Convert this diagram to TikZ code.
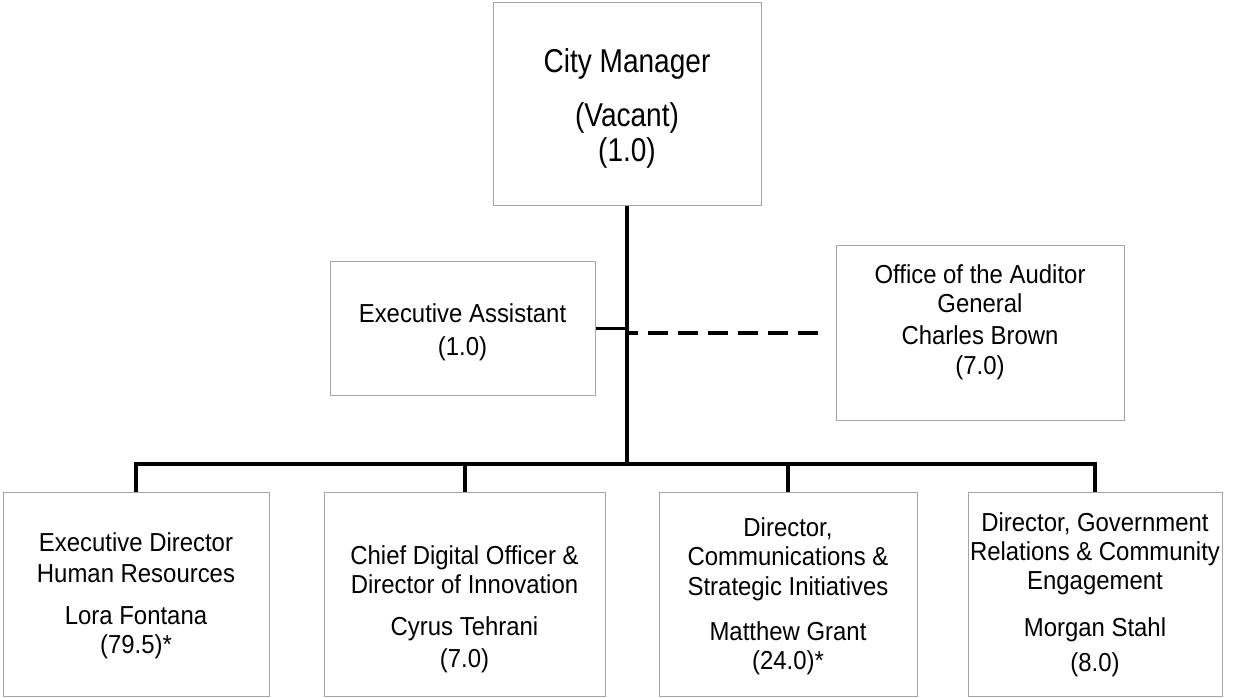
\documentclass[tikz,border=0pt]{standalone}
\usepackage{fontspec}
\setmainfont{Liberation Sans}
\newfontfamily\orgfont[FakeStretch=0.92]{Liberation Sans}
\newfontfamily\topfont[FakeStretch=0.85]{Liberation Sans}
\usepackage{tikz}
\definecolor{BoxLine}{HTML}{A6A6A6}

\begin{document}
\begin{tikzpicture}[x=1pt,y=-1pt]
  \tikzstyle{unit}=[draw=BoxLine,line width=1pt,inner sep=0pt]
  \tikzstyle{txt}=[align=center,inner sep=0pt,font=\orgfont\fontsize{26}{29}\selectfont]
  \tikzstyle{link}=[line width=4pt]
  \useasboundingbox (0,0) rectangle (1251,698);
  \node[unit,minimum width=268pt,minimum height=202pt] (cm) at (627,104) {};
  \node[txt,font=\topfont\fontsize{33}{35}\selectfont] (cmt) at (627,108.5)
    {City Manager\\[19pt](Vacant)\\(1.0)};
  \node[unit,minimum width=265pt,minimum height=134pt] (ea) at (462.5,328) {};
  \node[txt] (eat) at (462.5,332) {Executive Assistant\\[4pt](1.0)};
  \node[unit,minimum width=288pt,minimum height=175pt] (aud) at (980,332.5) {};
  \node[txt] (audt) at (980,322.7)
    {Office of the Auditor\\General\\[3pt]Charles Brown\\[1pt](7.0)};
  \node[unit,minimum width=266pt,minimum height=204pt] (hr) at (136,594) {};
  \node[txt] (hrt) at (136,596)
    {Executive Director\\[2pt]Human Resources\\[13pt]Lora Fontana\\(79.5)*};
  \node[unit,minimum width=281pt,minimum height=204pt] (cdo) at (464.5,594) {};
  \node[txt] (cdot) at (464.5,609)
    {Chief Digital Officer \&\\Director of Innovation\\[13pt]Cyrus Tehrani\\[3pt](7.0)};
  \node[unit,minimum width=258pt,minimum height=204pt] (com) at (788,594) {};
  \node[txt] (comt) at (788,596)
    {Director,\\Communications \&\\[1pt]Strategic Initiatives\\[16pt]Matthew Grant\\(24.0)*};
  \node[unit,minimum width=254pt,minimum height=204pt] (gov) at (1095,594) {};
  \node[txt] (govt) at (1095,595)
    {Director, Government\\Relations \& Community\\Engagement\\[18pt]Morgan Stahl\\[6pt](8.0)};
  \coordinate (hub) at (627,464);
  \coordinate (audlink) at (818,333);
  \draw[link] (cm.south) -- (hub);
  \draw[line width=3pt] (ea.east) -- (ea.east -| hub);
  \draw[link,dash pattern=on 20pt off 10pt] (audlink) -- (audlink -| hub);
  \draw[link] (hr.north) |- (hub) -| (gov.north);
  \draw[link] (cdo.north) -- (cdo.north |- hub);
  \draw[link] (com.north) -- (com.north |- hub);
\end{tikzpicture}
\end{document}
